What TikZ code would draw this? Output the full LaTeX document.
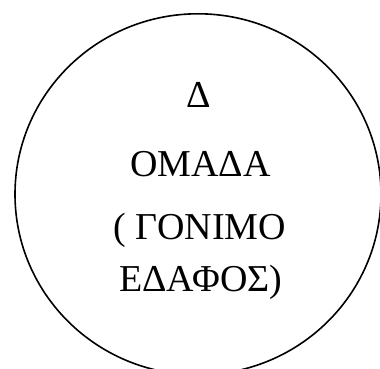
\documentclass[tikz,border=0pt]{standalone}
\usepackage{fontspec}
\setmainfont{Liberation Serif}
\begin{document}
\begin{tikzpicture}[x=1pt,y=1pt,
  lbl/.style={inner sep=0pt, anchor=base, font=\fontsize{38}{44}\selectfont}]
\useasboundingbox (0,0) rectangle (380,369);
\clip (0,0) rectangle (380,369);
\draw[line width=1.6pt] (198,174.7) ellipse [x radius=183, y radius=180.5];
\node[lbl] (l1) at (199,261.3) {Δ};
\node[lbl] (l2) at (200.5,192.3) {ΟΜΑΔΑ};
\node[lbl] (l3) at (199.5,129.7) {( ΓΟΝΙΜΟ};
\node[lbl] (l4) at (200.8,77.3) {ΕΔΑΦΟΣ)};
\end{tikzpicture}
\end{document}
